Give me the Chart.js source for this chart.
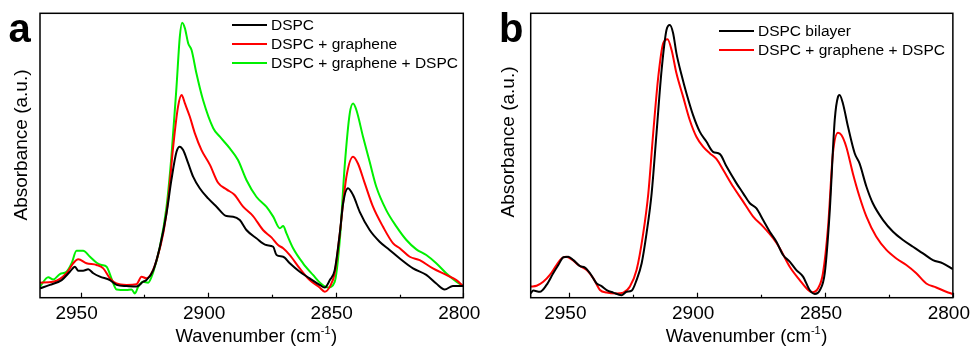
<!DOCTYPE html>
<html>
<head>
<meta charset="utf-8">
<script src="https://cdn.jsdelivr.net/npm/chart.js@4.4.1/dist/chart.umd.min.js"></script>
<style>
  html, body { margin: 0; padding: 0; background: #fff; }
  #wrap { position: relative; width: 979px; height: 347px; }
  #chartA { position: absolute; left: 0; top: 0; }
  #chartB { position: absolute; left: 490px; top: 0; }
</style>
</head>
<body>
<div id="wrap">
  <canvas id="chartA" width="490" height="347"></canvas>
  <canvas id="chartB" width="489" height="347"></canvas>
</div>
<script>
// x axis ticks (cm-1)
const xTicks = [2950, 2900, 2850, 2800]
const xMinorTicks = [2925, 2875, 2825]

// panel a: DSPC
const aDspcWn = [2965.9, 2962.0, 2957.4, 2954.2, 2952.2, 2950.9, 2949.0, 2947.0, 2945.0, 2942.4, 2938.5, 2935.9, 2932.0, 2928.1, 2925.5, 2924.2, 2921.5, 2918.9, 2916.3, 2914.4, 2912.4, 2911.1, 2909.8, 2907.8, 2905.9, 2903.3, 2900.0, 2896.7, 2892.8, 2890.2, 2887.6, 2885.0, 2881.1, 2877.2, 2874.5, 2873.2, 2870.6, 2868.0, 2864.1, 2860.2, 2856.3, 2854.3, 2852.3, 2850.4, 2848.4, 2847.1, 2845.2, 2843.2, 2840.6, 2836.7, 2832.8, 2828.9, 2824.9, 2819.7, 2814.5, 2810.6, 2807.3, 2804.1, 2800.1]
const aDspcAbs = [3.3, 4.5, 6.2, 9.1, 10.9, 9.5, 9.5, 10.0, 8.6, 7.4, 6.2, 4.5, 4.1, 3.9, 5.6, 6.2, 9.7, 17.9, 29.7, 41.4, 51.3, 53.1, 51.9, 47.2, 42.6, 38.5, 34.9, 32.0, 28.7, 28.5, 27.3, 23.8, 20.9, 18.5, 17.9, 15.0, 14.4, 12.1, 9.1, 6.8, 4.5, 3.6, 6.2, 9.7, 22.6, 33.2, 38.5, 36.1, 30.2, 23.8, 19.7, 16.8, 13.8, 10.3, 8.0, 5.0, 2.9, 4.1, 4.1]

// panel a: DSPC + graphene
const aGrWn = [2965.9, 2960.7, 2955.5, 2952.9, 2950.9, 2947.7, 2943.7, 2941.1, 2938.5, 2935.9, 2932.0, 2928.1, 2926.1, 2924.2, 2922.2, 2920.2, 2917.6, 2915.7, 2913.7, 2911.8, 2910.4, 2909.1, 2907.2, 2905.2, 2902.6, 2899.3, 2896.1, 2892.8, 2889.6, 2886.3, 2882.4, 2878.5, 2875.2, 2872.6, 2870.6, 2868.0, 2864.1, 2860.2, 2856.3, 2854.3, 2852.3, 2850.4, 2848.4, 2845.8, 2843.2, 2841.3, 2838.6, 2835.4, 2831.5, 2827.5, 2824.9, 2821.0, 2817.1, 2811.9, 2806.7, 2802.7, 2800.1]
const aGrAbs = [5.3, 5.6, 8.6, 12.1, 13.5, 12.1, 11.5, 10.3, 6.8, 5.0, 4.5, 4.7, 7.4, 6.8, 8.6, 13.2, 22.6, 34.3, 53.1, 67.2, 71.3, 68.3, 63.7, 57.8, 51.9, 46.7, 40.4, 38.1, 36.1, 32.0, 28.7, 23.8, 21.2, 18.5, 17.4, 15.0, 10.3, 6.2, 3.6, 2.1, 3.9, 8.6, 22.6, 42.6, 49.6, 47.2, 40.2, 32.0, 25.0, 19.1, 17.4, 14.4, 13.2, 10.3, 8.0, 6.2, 4.1]

// panel a: DSPC + graphene + DSPC
const aGrDspcWn = [2965.9, 2962.7, 2960.7, 2958.1, 2955.5, 2953.5, 2951.6, 2949.0, 2946.3, 2943.7, 2941.8, 2939.8, 2937.9, 2935.9, 2932.0, 2930.0, 2928.7, 2927.4, 2925.5, 2923.5, 2921.5, 2918.9, 2916.3, 2914.4, 2912.4, 2911.1, 2910.2, 2909.1, 2907.8, 2906.5, 2904.6, 2902.0, 2898.0, 2895.4, 2891.5, 2888.3, 2885.0, 2881.1, 2877.2, 2874.5, 2871.9, 2870.6, 2869.3, 2866.7, 2862.8, 2858.9, 2855.6, 2853.0, 2850.4, 2848.4, 2846.5, 2844.5, 2843.2, 2841.9, 2839.3, 2836.7, 2834.1, 2830.2, 2826.2, 2822.3, 2818.4, 2814.5, 2810.6, 2806.7, 2802.7, 2800.1]
const aGrDspcAbs = [3.9, 7.2, 6.4, 8.3, 9.1, 12.1, 16.5, 16.5, 14.4, 12.3, 11.5, 10.9, 6.8, 2.9, 2.7, 2.9, 1.5, 3.9, 5.6, 5.3, 9.1, 17.9, 32.0, 49.6, 74.2, 91.8, 96.7, 94.7, 89.4, 87.1, 78.9, 69.5, 59.6, 56.6, 52.5, 48.4, 41.4, 35.5, 32.0, 28.5, 24.4, 25.2, 22.6, 17.4, 12.1, 8.0, 4.8, 3.6, 5.6, 20.3, 46.1, 64.8, 68.3, 66.0, 56.6, 47.8, 39.0, 30.8, 25.0, 20.3, 17.0, 15.0, 12.1, 8.6, 5.6, 4.1]

// panel b: DSPC bilayer
const bBilayerWn = [2965.1, 2964.1, 2961.5, 2958.9, 2956.3, 2954.3, 2952.3, 2950.4, 2948.4, 2945.8, 2943.9, 2941.9, 2939.3, 2937.4, 2935.4, 2932.8, 2929.6, 2927.6, 2925.6, 2923.7, 2921.7, 2919.8, 2917.8, 2915.9, 2913.9, 2912.0, 2910.7, 2909.4, 2908.1, 2906.1, 2904.2, 2901.6, 2899.0, 2896.4, 2893.8, 2891.1, 2888.5, 2884.6, 2882.0, 2879.4, 2876.8, 2874.2, 2871.6, 2869.0, 2866.4, 2863.8, 2861.2, 2858.6, 2856.0, 2854.0, 2852.1, 2850.1, 2848.2, 2846.2, 2844.9, 2844.3, 2843.0, 2841.0, 2838.4, 2836.5, 2833.8, 2831.3, 2827.3, 2823.4, 2819.5, 2815.6, 2811.7, 2807.8, 2803.9, 2800.0]
const bBilayerAbs = [1.5, 2.5, 2.1, 4.5, 8.6, 11.5, 14.2, 14.4, 13.2, 11.1, 10.6, 8.6, 5.0, 4.1, 2.7, 1.8, 0.9, 2.1, 2.5, 6.2, 12.1, 22.6, 36.7, 57.8, 80.1, 94.1, 95.9, 93.0, 85.9, 78.3, 71.9, 64.2, 58.4, 54.9, 51.3, 50.5, 46.1, 40.2, 36.7, 33.2, 31.4, 27.3, 23.2, 19.7, 15.0, 12.7, 9.7, 7.4, 2.7, 1.3, 2.5, 8.6, 29.7, 62.5, 70.7, 71.3, 68.3, 60.1, 50.8, 47.2, 39.0, 33.2, 27.3, 23.2, 20.3, 17.9, 15.6, 13.2, 12.1, 10.0]

// panel b: DSPC + graphene + DSPC
const bGrDspcWn = [2965.1, 2962.8, 2960.2, 2957.6, 2955.0, 2953.0, 2951.3, 2949.1, 2946.5, 2943.2, 2940.6, 2938.0, 2935.4, 2931.5, 2928.9, 2926.3, 2923.7, 2921.1, 2919.1, 2917.2, 2915.2, 2913.3, 2911.6, 2910.0, 2908.1, 2905.5, 2902.9, 2900.3, 2897.7, 2895.1, 2892.4, 2889.8, 2885.9, 2882.0, 2878.1, 2874.2, 2870.3, 2867.7, 2863.8, 2859.9, 2856.6, 2855.0, 2852.7, 2850.8, 2848.8, 2846.9, 2844.9, 2843.6, 2841.7, 2839.1, 2836.5, 2833.8, 2830.0, 2826.0, 2822.1, 2818.2, 2814.3, 2810.4, 2806.5, 2802.6, 2800.0]
const bGrDspcAbs = [3.9, 4.2, 5.6, 8.0, 11.5, 13.8, 14.4, 13.5, 11.5, 9.7, 6.8, 2.7, 1.8, 1.5, 1.8, 3.9, 9.7, 22.6, 36.7, 57.8, 77.7, 89.4, 90.9, 87.1, 78.9, 70.7, 62.5, 56.6, 53.1, 50.8, 48.7, 44.9, 39.0, 33.8, 28.5, 25.0, 20.9, 17.4, 10.9, 6.2, 2.7, 1.9, 3.3, 8.6, 25.0, 50.8, 58.0, 57.2, 53.1, 43.7, 35.5, 28.5, 21.5, 16.8, 13.8, 11.5, 8.6, 5.0, 3.6, 2.1, 1.3]

const FONT = "'Liberation Sans', Arial, sans-serif"
Chart.defaults.font.family = FONT
Chart.defaults.color = "#000"

const toPoints = (wn, abs) => wn.map((x, i) => ({ x, y: abs[i] }))

const series = (label, wn, abs, color) => ({
  label,
  data: toPoints(wn, abs),
  borderColor: color,
  backgroundColor: color,
  borderWidth: 2,
  pointRadius: 0,
  cubicInterpolationMode: "monotone",
  fill: false
})

// box, inward ticks, axis titles (the x one has a real superscript),
// panel letter and the in-plot legend
const framePlugin = {
  id: "frame",
  afterDatasetsDraw(chart, args, opts) {
    const { ctx, chartArea: a } = chart
    const x = chart.scales.x
    ctx.save()
    ctx.strokeStyle = "#000"
    ctx.lineWidth = 1.2
    const tick = (v, len) => {
      const px = Math.round(x.getPixelForValue(v)) + 0.5
      ctx.beginPath()
      ctx.moveTo(px, a.bottom)
      ctx.lineTo(px, a.bottom - len)
      ctx.stroke()
    }
    xTicks.forEach((v) => tick(v, 5))
    xMinorTicks.forEach((v) => tick(v, 3))
    ctx.lineWidth = 1.5
    ctx.strokeRect(a.left, a.top, a.right - a.left, a.bottom - a.top)

    ctx.fillStyle = "#000"
    ctx.font = `bold 40px ${FONT}`
    ctx.textAlign = "left"
    ctx.textBaseline = "alphabetic"
    ctx.fillText(opts.letter, opts.letterX, 42)

    // x title: "Wavenumber (cm" + superscript "-1" + ")"
    const main = "Wavenumber (cm", sup = "-1", close = ")"
    const big = `18.5px ${FONT}`, small = `11px ${FONT}`
    ctx.font = big
    const w1 = ctx.measureText(main).width
    const w3 = ctx.measureText(close).width
    ctx.font = small
    const w2 = ctx.measureText(sup).width
    let tx = (a.left + a.right) / 2 + 4.5 - (w1 + w2 + w3) / 2
    const ty = 342
    ctx.font = big
    ctx.fillText(main, tx, ty)
    tx += w1
    ctx.font = small
    ctx.fillText(sup, tx, ty - 8)
    tx += w2 + 0.5
    ctx.font = big
    ctx.fillText(close, tx, ty)

    // y title
    ctx.save()
    ctx.translate(opts.yTitleX, opts.yTitleY)
    ctx.rotate(-Math.PI / 2)
    ctx.font = `19px ${FONT}`
    ctx.textAlign = "center"
    ctx.textBaseline = "middle"
    ctx.fillText("Absorbance (a.u.)", 0, 0)
    ctx.restore()

    ctx.font = `15.5px ${FONT}`
    ctx.textBaseline = "middle"
    chart.data.datasets.forEach((ds, i) => {
      const y = opts.legendY + i * 19
      ctx.strokeStyle = ds.borderColor
      ctx.lineWidth = 2.2
      ctx.beginPath()
      ctx.moveTo(opts.legendX, y)
      ctx.lineTo(opts.legendX + 35, y)
      ctx.stroke()
      ctx.fillText(ds.label, opts.legendX + 39, y + 0.5)
    })
    ctx.restore()
  }
}

function makeOptions(p) {
  return {
    responsive: false,
    animation: false,
    events: [],
    layout: { padding: { left: 0, top: 13.3, right: p.right, bottom: 0 } },
    plugins: {
      legend: { display: false },
      tooltip: { enabled: false },
      frame: p.frame
    },
    scales: {
      x: {
        type: "linear",
        reverse: true,
        min: 2800,
        max: p.xMax,
        afterBuildTicks: (s) => { s.ticks = xTicks.map((v) => ({ value: v })) },
        afterFit: (s) => { s.height = 49.3 },
        grid: { display: false, drawTicks: false },
        border: { display: false },
        ticks: {
          font: { size: 19 },
          padding: 5,
          labelOffset: -4,
          maxRotation: 0,
          autoSkip: false,
          callback: (v) => String(v)
        }
      },
      y: {
        type: "linear",
        min: 0,
        max: 100,
        afterFit: (s) => { s.width = p.yWidth },
        grid: { display: false, drawTicks: false },
        border: { display: false },
        ticks: { display: false }
      }
    }
  }
}

new Chart(document.getElementById("chartA"), {
  type: "line",
  data: {
    datasets: [
      series("DSPC", aDspcWn, aDspcAbs, "#000000"),
      series("DSPC + graphene", aGrWn, aGrAbs, "#ff0000"),
      series("DSPC + graphene + DSPC", aGrDspcWn, aGrDspcAbs, "#00f000")
    ]
  },
  options: makeOptions({
    right: 26.7, xMax: 2965.9, yWidth: 40,
    frame: { letter: "a", letterX: 8.5, legendX: 232, legendY: 25, yTitleX: 21.7, yTitleY: 145 }
  }),
  plugins: [framePlugin]
})

new Chart(document.getElementById("chartB"), {
  type: "line",
  data: {
    datasets: [
      series("DSPC bilayer", bBilayerWn, bBilayerAbs, "#000000"),
      series("DSPC + graphene + DSPC", bGrDspcWn, bGrDspcAbs, "#ff0000")
    ]
  },
  options: makeOptions({
    right: 25.7, xMax: 2965.1, yWidth: 40.7,
    frame: { letter: "b", letterX: 9, legendX: 229, legendY: 31, yTitleX: 19, yTitleY: 142 }
  }),
  plugins: [framePlugin]
})
</script>
</body>
</html>
